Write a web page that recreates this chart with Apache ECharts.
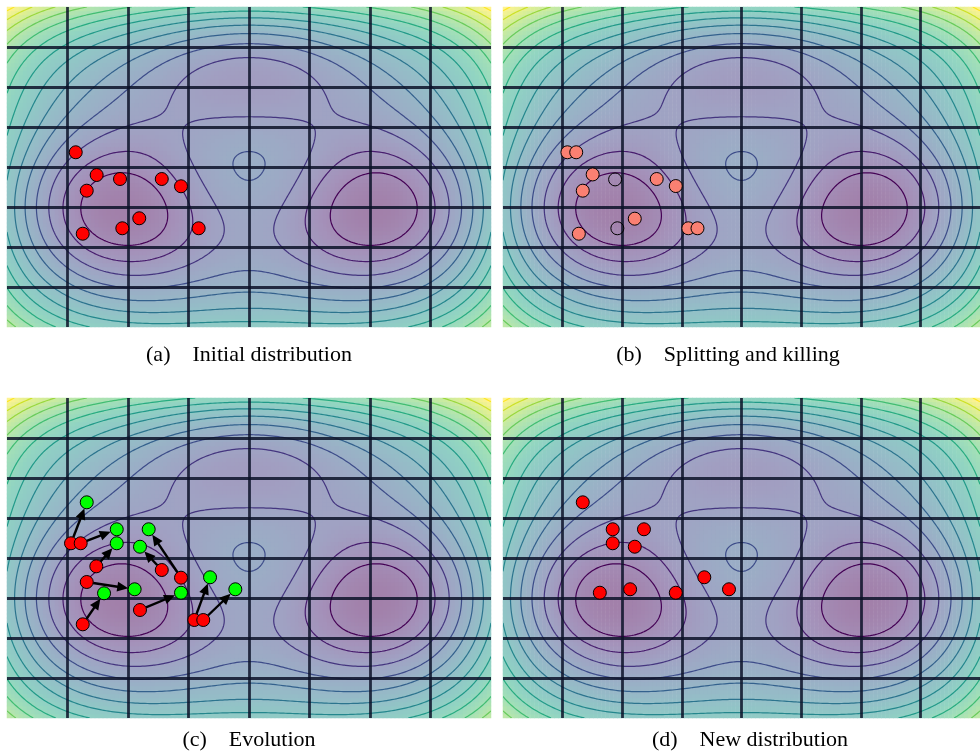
<!DOCTYPE html>
<html>
<head>
<meta charset="utf-8">
<script src="https://cdn.jsdelivr.net/npm/echarts@6/dist/echarts.min.js"></script>
<style>
html,body{margin:0;padding:0;background:#fff;}
#chart{width:980px;height:756px;}
</style>
</head>
<body>
<div id="chart"></div>
<script>
// three-hole potential shown in the background (gaussian bumps + quartic confinement)
var wellX = [0, 0, 1, -1];
var wellY = [1/3, 5/3, 0, 0];
var wellA = [3, -3, -5, -5];
var quartic = [0.2, 0.2];
var quarticY = 1/3;
var levels = [-3.2, -2.4, -1.6, -0.8, 0, 0.8, 1.6, 2.4, 3.2, 4.0, 4.8, 5.6, 6.4, 7.2];

// (a) initial walkers
var initX = [-1.432, -1.259, -1.066, -0.721, -0.562, -1.341, -0.907, -1.047, -1.374, -0.416];
var initY = [0.684, 0.400, 0.350, 0.350, 0.259, 0.204, -0.141, -0.266, -0.334, -0.266];
// (b) survivors (split ones appear twice) and killed ones
var splitX = [-1.460, -1.386, -1.248, -0.711, -0.551, -1.331, -0.895, -1.364, -0.446, -0.369];
var splitY = [0.684, 0.684, 0.407, 0.350, 0.262, 0.204, -0.146, -0.334, -0.266, -0.266];
var killX = [-1.060, -1.041];
var killY = [0.345, -0.266];
// (c) evolution: start -> end
var evoFromX = [-1.471, -1.391, -1.262, -1.341, -1.374, -0.901, -0.721, -0.562, -0.452, -0.378];
var evoFromY = [0.684, 0.684, 0.396, 0.200, -0.329, -0.150, 0.350, 0.254, -0.275, -0.275];
var evoToX = [-1.341, -1.093, -1.093, -0.945, -1.198, -0.562, -0.901, -0.829, -0.322, -0.113];
var evoToY = [1.196, 0.859, 0.684, 0.109, 0.059, 0.066, 0.641, 0.859, 0.259, 0.109];
// (d) new distribution
var newX = [-1.331, -1.080, -0.818, -1.080, -0.895, -0.312, -0.105, -1.188, -0.934, -0.551];
var newY = [1.196, 0.859, 0.859, 0.684, 0.641, 0.259, 0.109, 0.066, 0.109, 0.066];

var captions = ['(a)\u2003Initial distribution', '(b)\u2003Splitting and killing', '(c)\u2003Evolution', '(d)\u2003New distribution'];

var xRange = [-2, 2], yRange = [-1.5, 2.5];
var viridis = ['#440154','#482475','#414487','#355f8d','#2a788e','#21918c','#22a884','#44bf70','#7ad151','#bddf26','#fde725'];

function potential(x, y){
  var v = 0;
  for(var k=0;k<wellA.length;k++){
    var dx = x-wellX[k], dy = y-wellY[k];
    v += wellA[k]*Math.exp(-dx*dx-dy*dy);
  }
  v += quartic[0]*Math.pow(x,4) + quartic[1]*Math.pow(y-quarticY,4);
  return v;
}

function hexRgb(h){ return [parseInt(h.substr(1,2),16), parseInt(h.substr(3,2),16), parseInt(h.substr(5,2),16)]; }
function viridisAt(t, alpha){
  t = Math.max(0, Math.min(1, t));
  var f = t*(viridis.length-1), i = Math.min(Math.floor(f), viridis.length-2), u = f-i;
  var a = hexRgb(viridis[i]), b = hexRgb(viridis[i+1]);
  var c = [0,1,2].map(function(k){
    var v = a[k]+(b[k]-a[k])*u;
    return Math.round(255-(255-v)*alpha);
  });
  return 'rgb('+c.join(',')+')';
}

// heatmap cells (4px each)
var NX = 121, NY = 80;
var heat = [], xCats = [], yCats = [];
var vmin = Infinity, vmax = -Infinity;
for(var i=0;i<NX;i++) xCats.push(i);
for(var j=0;j<NY;j++) yCats.push(j);
for(var i=0;i<NX;i++){
  for(var j=0;j<NY;j++){
    var x = xRange[0]+(i+0.5)*(xRange[1]-xRange[0])/NX;
    var y = yRange[0]+(j+0.5)*(yRange[1]-yRange[0])/NY;
    var v = potential(x,y);
    if(v<vmin) vmin=v;
    if(v>vmax) vmax=v;
    heat.push([i,j,v]);
  }
}

// contour lines by marching squares, chained into polylines
var CN = 200;
var gx = [], gy = [], gv = [];
for(var i=0;i<=CN;i++) gx.push(xRange[0]+i*(xRange[1]-xRange[0])/CN);
for(var j=0;j<=CN;j++) gy.push(yRange[0]+j*(yRange[1]-yRange[0])/CN);
for(var j=0;j<=CN;j++){
  var row=[];
  for(var i=0;i<=CN;i++) row.push(potential(gx[i],gy[j]));
  gv.push(row);
}
var contourLines = [];
function traceLevel(L, lvl){
  var pts = {}, adj = {}, segs = [];
  function hEdge(i,j){
    var key='h'+i+'_'+j;
    if(!(key in pts)){ var t=(L-gv[j][i])/(gv[j][i+1]-gv[j][i]); pts[key]=[gx[i]+t*(gx[i+1]-gx[i]), gy[j]]; }
    return key;
  }
  function vEdge(i,j){
    var key='v'+i+'_'+j;
    if(!(key in pts)){ var t=(L-gv[j][i])/(gv[j+1][i]-gv[j][i]); pts[key]=[gx[i], gy[j]+t*(gy[j+1]-gy[j])]; }
    return key;
  }
  function addSeg(a,b){
    var s=segs.length; segs.push([a,b]);
    (adj[a]=adj[a]||[]).push(s);
    (adj[b]=adj[b]||[]).push(s);
  }
  for(var j=0;j<CN;j++){
    for(var i=0;i<CN;i++){
      var c = (gv[j][i]>L?1:0)|(gv[j][i+1]>L?2:0)|(gv[j+1][i+1]>L?4:0)|(gv[j+1][i]>L?8:0);
      if(c===0||c===15) continue;
      var B=function(){return hEdge(i,j);}, T=function(){return hEdge(i,j+1);};
      var Lf=function(){return vEdge(i,j);}, R=function(){return vEdge(i+1,j);};
      var k = c>7 ? 15-c : c;
      if(c===5){ addSeg(Lf(),T()); addSeg(B(),R()); continue; }
      if(c===10){ addSeg(Lf(),B()); addSeg(R(),T()); continue; }
      if(k===1) addSeg(Lf(),B());
      else if(k===2) addSeg(B(),R());
      else if(k===3) addSeg(Lf(),R());
      else if(k===4) addSeg(R(),T());
      else if(k===6) addSeg(B(),T());
      else if(k===7) addSeg(Lf(),T());
    }
  }
  var used = [];
  function extend(chain){
    while(true){
      var last = chain[chain.length-1], list = adj[last] || [], nxt = -1;
      for(var q=0;q<list.length;q++){ if(!used[list[q]]){ nxt=list[q]; break; } }
      if(nxt<0) break;
      used[nxt]=true;
      chain.push(segs[nxt][0]===last ? segs[nxt][1] : segs[nxt][0]);
    }
  }
  for(var s=0;s<segs.length;s++){
    if(used[s]) continue;
    used[s]=true;
    var chain=[segs[s][0],segs[s][1]];
    extend(chain);
    chain.reverse();
    extend(chain);
    contourLines.push({lvl:lvl, pts:chain.map(function(k){return pts[k];})});
  }
}
levels.forEach(function(L,idx){ traceLevel(L, idx); });
var contourData = contourLines.map(function(c,k){ return [c.pts[0][0], c.pts[0][1], k]; });

function zip(xs, ys){ return xs.map(function(x,i){ return [x, ys[i]]; }); }

var panels = [
  {left:7, top:7},
  {left:503, top:7},
  {left:7, top:398},
  {left:503, top:398}
];
var capPos = [[249,355],[728,355],[249,740],[750,740]];

var grids=[], xAxes=[], yAxes=[], series=[], heatIdx=[];
panels.forEach(function(p,k){
  grids.push({left:p.left, top:p.top, width:484, height:320});
});
panels.forEach(function(p,k){
  xAxes.push({type:'value', gridIndex:k, min:xRange[0], max:xRange[1], interval:0.5, z:3,
    axisLine:{show:false}, axisTick:{show:false}, axisLabel:{show:false},
    splitLine:{show:true, showMinLine:false, showMaxLine:false, lineStyle:{color:'rgba(12,18,40,0.85)', width:2.8}}});
  yAxes.push({type:'value', gridIndex:k, min:yRange[0], max:yRange[1], interval:0.5, z:3,
    axisLine:{show:false}, axisTick:{show:false}, axisLabel:{show:false},
    splitLine:{show:true, showMinLine:false, showMaxLine:false, lineStyle:{color:'rgba(12,18,40,0.85)', width:2.8}}});
});
panels.forEach(function(p,k){
  xAxes.push({type:'category', gridIndex:k, data:xCats, show:false});
  yAxes.push({type:'category', gridIndex:k, data:yCats, show:false});
});

function renderContour(params, api){
  var c = contourLines[api.value(2)];
  var pts = c.pts.map(function(q){ return api.coord(q); });
  return {type:'polyline', shape:{points:pts},
    style:{stroke:viridisAt(c.lvl/(levels.length-1), 1), lineWidth:1.2, fill:'none'}};
}

function renderArrow(params, api){
  var p1 = api.coord([api.value(0), api.value(1)]);
  var p2 = api.coord([api.value(2), api.value(3)]);
  var dx=p2[0]-p1[0], dy=p2[1]-p1[1], len=Math.sqrt(dx*dx+dy*dy);
  var ux=dx/len, uy=dy/len, r=6.5, head=11, half=5;
  var sx=p1[0]+ux*r, sy=p1[1]+uy*r;
  var tx=p2[0]-ux*r, ty=p2[1]-uy*r;
  var bx=tx-ux*head, by=ty-uy*head;
  return {type:'group', children:[
    {type:'line', shape:{x1:sx,y1:sy,x2:bx+ux*2,y2:by+uy*2}, style:{stroke:'#000', lineWidth:2.4}},
    {type:'polygon', shape:{points:[[tx,ty],[bx-uy*half,by+ux*half],[bx+uy*half,by-ux*half]]}, style:{fill:'#000'}}
  ]};
}

panels.forEach(function(p,k){
  heatIdx.push(series.length);
  series.push({type:'heatmap', xAxisIndex:4+k, yAxisIndex:4+k, data:heat, z:1, progressive:0, silent:true,
    itemStyle:{borderWidth:0}});
  series.push({type:'custom', xAxisIndex:k, yAxisIndex:k, data:contourData, z:2, progressive:0, silent:true,
    encode:{x:0, y:1}, renderItem:renderContour, clip:true});
});

function dots(k, data, fill){
  return {type:'scatter', xAxisIndex:k, yAxisIndex:k, data:data, z:5, symbol:'circle', symbolSize:13, silent:true,
    itemStyle:{color:fill, borderColor:'#000', borderWidth:1, opacity:1}};
}
series.push(dots(0, zip(initX, initY), '#ff0000'));
series.push(dots(1, zip(splitX, splitY), '#fa8072'));
series.push(dots(1, zip(killX, killY), 'rgba(0,0,0,0)'));
series.push({type:'custom', xAxisIndex:2, yAxisIndex:2, z:4, silent:true,
  data:evoFromX.map(function(x,i){ return [x, evoFromY[i], evoToX[i], evoToY[i]]; }),
  encode:{x:[0,2], y:[1,3]}, renderItem:renderArrow});
series.push(dots(2, zip(evoFromX, evoFromY), '#ff0000'));
series.push(dots(2, zip(evoToX, evoToY), '#00ff00'));
series.push(dots(3, zip(newX, newY), '#ff0000'));

var heatStops = viridis.map(function(h,i){ return viridisAt(i/(viridis.length-1), 0.5); });

var chart = echarts.init(document.getElementById('chart'));
chart.setOption({
  animation:false,
  backgroundColor:'#fff',
  grid:grids,
  xAxis:xAxes,
  yAxis:yAxes,
  visualMap:{show:false, type:'continuous', min:vmin, max:vmax, dimension:2, seriesIndex:heatIdx,
    inRange:{color:heatStops}},
  graphic:captions.map(function(t,k){
    return {type:'text', x:capPos[k][0], y:capPos[k][1], silent:true,
      style:{text:t, textAlign:'center', textVerticalAlign:'middle', fill:'#000',
        font:'22px "Liberation Serif", "Times New Roman", serif'}};
  }),
  series:series
});
</script>
</body>
</html>
